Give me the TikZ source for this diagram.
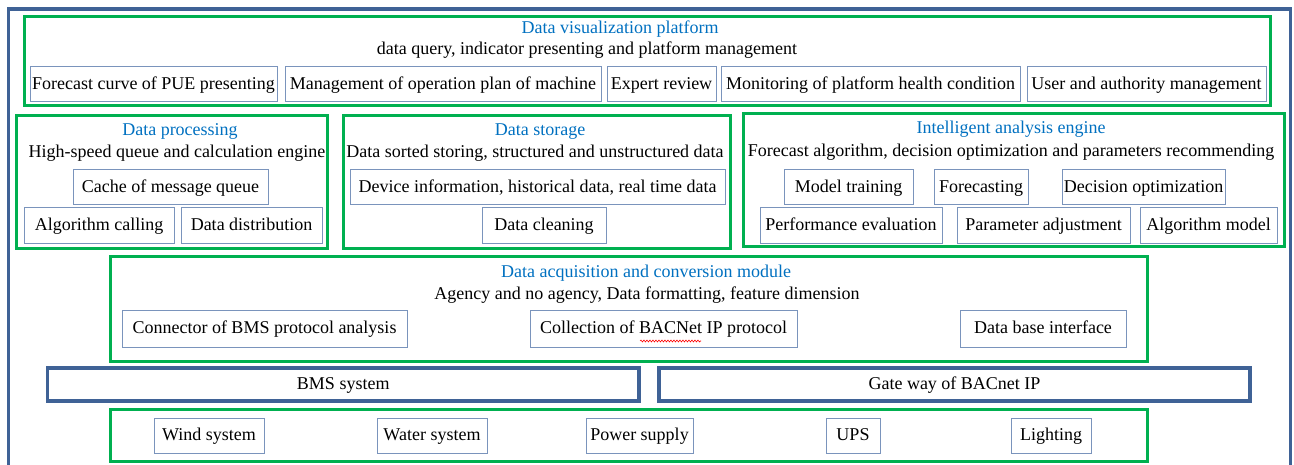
\documentclass[tikz,border=0pt]{standalone}
\usepackage{fontspec}
\setmainfont{Liberation Serif}
\usepackage{xcolor}
\usetikzlibrary{positioning, decorations.pathmorphing}
\definecolor{panelgreen}{HTML}{00B050}
\definecolor{frameblue}{HTML}{3F6296}
\definecolor{itemblue}{HTML}{7A94BC}
\definecolor{headblue}{HTML}{0070C0}

\begin{document}
\begin{tikzpicture}[x=1pt, y=-1pt, every node/.style={font=\fontsize{18}{21}\selectfont, text height=12pt, text depth=2pt}]
  \tikzstyle{panel} = [rectangle, draw=panelgreen, line width=3pt, inner sep=0pt]
  \tikzstyle{module} = [rectangle, draw=frameblue, line width=3.5pt, inner sep=0pt, minimum height=33pt, text centered]
  \tikzstyle{item} = [rectangle, draw=itemblue, line width=1pt, inner sep=0pt, minimum height=35pt, text centered]
  \tikzstyle{heading} = [text=headblue, inner sep=0pt]
  \tikzstyle{remark} = [text=black, inner sep=0pt]
  \tikzstyle{frame} = [draw=frameblue, line width=3.5pt]

  \useasboundingbox (0,0) rectangle (1294,465);
  \clip (0,0) rectangle (1294,465);

  % outer frame
  \draw [frame] (8.5,480) |- (1290.5,9) -- (1290.5,480);

  % visualization platform
  \node (vis) [panel, minimum width=1246pt, minimum height=89pt] at (647.5,61.5) {};
  \node (visHead) [heading] at (620,29) {Data visualization platform};
  \node (visNote) [remark] at (587,50) {data query, indicator presenting and platform management};
  \node (pue) [item, minimum width=247pt] at (153.5,84.5) {Forecast curve of PUE presenting};
  \node (plan) [item, minimum width=316pt] at (443,84.5) {Management of operation plan of machine};
  \node (expert) [item, minimum width=109pt] at (661.5,84.5) {Expert review};
  \node (health) [item, minimum width=299pt] at (870.5,84.5) {Monitoring of platform health condition};
  \node (user) [item, minimum width=239pt] at (1146.5,84.5) {User and authority management};

  % data processing
  \node (proc) [panel, minimum width=311pt, minimum height=133pt] at (171.5,182.5) {};
  \node (procHead) [heading] at (180,131) {Data processing};
  \node (procNote) [remark] at (177,153) {High-speed queue and calculation engine};
  \node (cache) [item, minimum width=195pt] at (170.5,187.5) {Cache of message queue};
  \node (calling) [item, minimum width=150pt, minimum height=36pt] at (99,226) {Algorithm calling};
  \node (distrib) [item, minimum width=141pt, minimum height=36pt] at (251.5,226) {Data distribution};

  % data storage
  \node (store) [panel, minimum width=387pt, minimum height=133pt] at (536.5,182.5) {};
  \node (storeHead) [heading] at (540,131) {Data storage};
  \node (storeNote) [remark] at (535,153) {Data sorted storing, structured and unstructured data};
  \node (device) [item, minimum width=375pt] at (537.5,187.5) {Device information, historical data, real time data};
  \node (cleaning) [item, minimum width=124pt, minimum height=36pt] at (544,226) {Data cleaning};

  % intelligent analysis engine
  \node (engine) [panel, minimum width=541pt, minimum height=133pt] at (1013.5,180.5) {};
  \node (engineHead) [heading] at (1011,129) {Intelligent analysis engine};
  \node (engineNote) [remark] at (1011,152) {Forecast algorithm, decision optimization and parameters recommending};
  \node (training) [item, minimum width=129pt] at (848.5,187.5) {Model training};
  \node (forecast) [item, minimum width=94pt] at (981,187.5) {Forecasting};
  \node (decision) [item, minimum width=163pt] at (1143.5,187.5) {Decision optimization};
  \node (perf) [item, minimum width=182pt, minimum height=36pt] at (851,226) {Performance evaluation};
  \node (param) [item, minimum width=173pt, minimum height=36pt] at (1043.5,226) {Parameter adjustment};
  \node (algmodel) [item, minimum width=137pt, minimum height=36pt] at (1208.5,226) {Algorithm model};

  % acquisition and conversion
  \node (acq) [panel, minimum width=1036.5pt, minimum height=104pt] at (628.75,309) {};
  \node (acqHead) [heading] at (646,273) {Data acquisition and conversion module};
  \node (acqNote) [remark] at (647,295) {Agency and no agency, Data formatting, feature dimension};
  \node (connector) [item, minimum width=285pt, minimum height=36pt] at (264.5,329) {Connector of BMS protocol analysis};
  \node (collection) [item, minimum width=267pt, minimum height=36pt] at (663.5,329) {Collection of BACNet IP protocol};
  \node (database) [item, minimum width=166pt, minimum height=36pt] at (1043,329) {Data base interface};
  \draw [red, line width=0.6pt, decorate, decoration={snake, amplitude=0.9pt, segment length=3pt}] (640,341) -- (701,341);

  % systems
  \node (bms) [module, minimum width=591.5pt] at (343.25,384.5) {BMS system};
  \node (gate) [module, minimum width=591pt] at (954.5,384.5) {Gate way of BACnet IP};

  % field equipment
  \node (field) [panel, minimum width=1036.5pt, minimum height=52.5pt] at (628.75,435.25) {};
  \node (wind) [item, minimum width=110pt] at (209,435.5) {Wind system};
  \node (water) [item, minimum width=110pt] at (432,435.5) {Water system};
  \node (power) [item, minimum width=107pt] at (639.5,435.5) {Power supply};
  \node (ups) [item, minimum width=54pt] at (853,435.5) {UPS};
  \node (lighting) [item, minimum width=80pt] at (1051,435.5) {Lighting};
\end{tikzpicture}
\end{document}
